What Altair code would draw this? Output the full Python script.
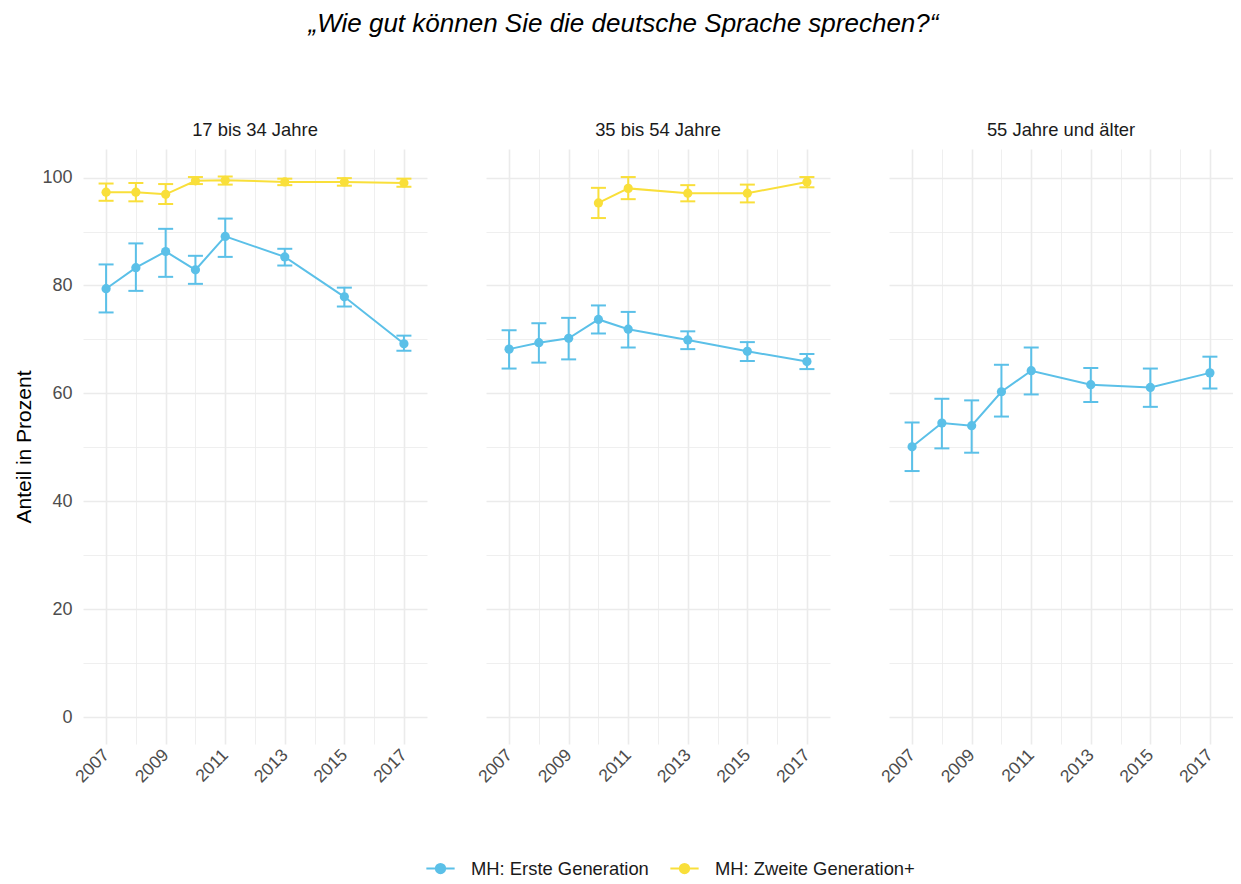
import altair as alt
import pandas as pd

title_text = "„Wie gut können Sie die deutsche Sprache sprechen?“"
groups = ["17 bis 34 Jahre", "35 bis 54 Jahre", "55 Jahre und älter"]
gens = ["MH: Erste Generation", "MH: Zweite Generation+"]
colors = ["#5bc0e8", "#f9df3a"]

years_all = [2007, 2008, 2009, 2010, 2011, 2013, 2015, 2017]
years_late = [2010, 2011, 2013, 2015, 2017]

# 17 bis 34 Jahre
a1_val = [79.4, 83.3, 86.3, 82.9, 89.1, 85.3, 77.9, 69.2]
a1_lo = [75.0, 79.0, 81.6, 80.3, 85.3, 83.7, 76.1, 67.9]
a1_hi = [83.9, 87.8, 90.5, 85.5, 92.4, 86.8, 79.6, 70.7]
a2_val = [97.3, 97.3, 96.9, 99.4, 99.5, 99.2, 99.2, 99.0]
a2_lo = [95.7, 95.6, 95.1, 98.8, 98.7, 98.6, 98.5, 98.3]
a2_hi = [98.9, 99.0, 98.8, 100.1, 100.2, 99.8, 99.9, 99.8]

# 35 bis 54 Jahre
b1_val = [68.2, 69.4, 70.2, 73.7, 71.9, 69.9, 67.8, 65.9]
b1_lo = [64.6, 65.7, 66.3, 71.1, 68.5, 68.2, 66.0, 64.5]
b1_hi = [71.7, 73.0, 74.0, 76.3, 75.1, 71.5, 69.5, 67.3]
b2_val = [95.3, 98.0, 97.1, 97.1, 99.2]
b2_lo = [92.5, 96.0, 95.6, 95.4, 98.2]
b2_hi = [98.1, 100.1, 98.6, 98.7, 100.1]

# 55 Jahre und älter
c1_val = [50.1, 54.5, 54.0, 60.3, 64.2, 61.6, 61.1, 63.8]
c1_lo = [45.6, 49.8, 49.0, 55.7, 59.8, 58.4, 57.5, 60.9]
c1_hi = [54.6, 59.0, 58.7, 65.3, 68.5, 64.7, 64.6, 66.8]

y_ticks = [0, 10, 20, 30, 40, 50, 60, 70, 80, 90, 100]
x_ticks = list(range(2007, 2018))

series = [
    (groups[0], gens[0], years_all, a1_val, a1_lo, a1_hi),
    (groups[0], gens[1], years_all, a2_val, a2_lo, a2_hi),
    (groups[1], gens[0], years_all, b1_val, b1_lo, b1_hi),
    (groups[1], gens[1], years_late, b2_val, b2_lo, b2_hi),
    (groups[2], gens[0], years_all, c1_val, c1_lo, c1_hi),
]
rows = []
for g, gen, yrs, v, lo, hi in series:
    for i, yr in enumerate(yrs):
        rows.append({"group": g, "gen": gen, "year": yr, "value": v[i], "lo": lo[i], "hi": hi[i]})
df = pd.DataFrame(rows)

font = "Liberation Sans"

x_enc = alt.X(
    "year:Q",
    scale=alt.Scale(domain=[2006.225, 2017.775], nice=False, zero=False),
    axis=alt.Axis(
        values=x_ticks,
        labelExpr="datum.value % 2 === 1 ? datum.label : ''",
        format="d",
        title=None,
        labelAngle=-45,
        labelAlign="right",
        labelBaseline="middle",
        labelFontSize=17.5,
        labelColor="#4d4d4d",
        labelFont=font,
        labelPadding=8,
        ticks=False,
        domain=False,
        grid=True,
        gridColor="#ebebeb",
        gridWidth={"condition": {"test": "datum.value % 2 === 1", "value": 1.6}, "value": 0.8},
    ),
)
y_enc = alt.Y(
    "value:Q",
    scale=alt.Scale(domain=[-5, 105.3], nice=False, zero=False),
    axis=alt.Axis(
        values=y_ticks,
        labelExpr="datum.value % 20 === 0 ? datum.label : ''",
        title="Anteil in Prozent",
        titleFontSize=21,
        titleFontWeight="normal",
        titleFont=font,
        titleColor="#000000",
        titlePadding=7,
        labelFontSize=18,
        labelColor="#4d4d4d",
        labelFont=font,
        labelPadding=11,
        ticks=False,
        domain=False,
        grid=True,
        gridColor="#ebebeb",
        gridWidth={"condition": {"test": "datum.value % 20 === 0", "value": 1.6}, "value": 0.8},
    ),
)

color_enc = alt.Color(
    "gen:N",
    scale=alt.Scale(domain=gens, range=colors),
    legend=alt.Legend(
        title=None,
        orient="none",
        legendX=342,
        legendY=704,
        direction="horizontal",
        symbolType="M-1,0L1,0M-0.33,0A0.33,0.33,0,1,0,0.33,0A0.33,0.33,0,1,0,-0.33,0Z",
        symbolSize=800,
        symbolStrokeWidth=2,
        labelFontSize=18.4,
        labelFont=font,
        labelColor="#1a1a1a",
        labelOffset=15,
        labelLimit=0,
        columnPadding=17,
        padding=0,
    ),
)

base = alt.Chart(df)
line = base.mark_line(strokeWidth=2).encode(x=x_enc, y=y_enc, color=color_enc)
pts = base.mark_point(filled=True, size=85, opacity=1).encode(x=x_enc, y=y_enc, color=color_enc)
rule = base.mark_rule(strokeWidth=2).encode(x=x_enc, y="lo:Q", y2="hi:Q", color=color_enc)
cap_lo = base.mark_tick(orient="horizontal", size=15, thickness=2, opacity=1).encode(x=x_enc, y="lo:Q", color=color_enc)
cap_hi = base.mark_tick(orient="horizontal", size=15, thickness=2, opacity=1).encode(x=x_enc, y="hi:Q", color=color_enc)

layered = alt.layer(rule, cap_lo, cap_hi, line, pts).properties(width=344, height=595)

chart = layered.facet(
    column=alt.Column(
        "group:N",
        sort=groups,
        title=None,
        header=alt.Header(labelFontSize=18.4, labelFont=font, labelColor="#1a1a1a", labelPadding=10),
    ),
    spacing=59,
).properties(
    title=alt.TitleParams(
        title_text,
        fontSize=26,
        font=font,
        fontStyle="italic",
        fontWeight="normal",
        color="#000000",
        anchor="middle",
        offset=84,
    ),
    padding={"left": 5, "top": 2, "right": 0, "bottom": 0},
    background="white",
).configure_view(strokeWidth=0, stroke="transparent")

chart.save("out.html", embed_options={"renderer": "svg", "actions": False})
